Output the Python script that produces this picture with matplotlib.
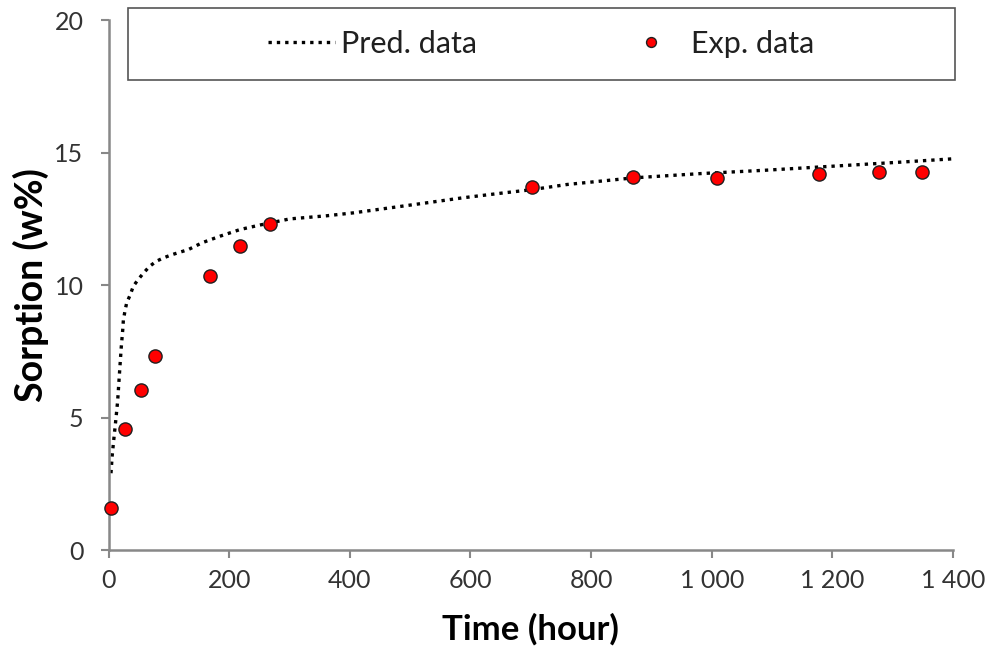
import numpy as np
import matplotlib
matplotlib.use('Agg')
import matplotlib.pyplot as plt
from matplotlib.patches import Rectangle
from matplotlib.ticker import FuncFormatter

plt.rcParams['font.family'] = ['Lato', 'DejaVu Sans']

# experimental points (time in hours, sorption in w%)
time_exp = [4, 27, 53, 77, 169, 218, 268, 702, 870, 1009, 1178, 1278, 1349]
sorp_exp = [1.58, 4.57, 6.05, 7.31, 10.33, 11.49, 12.32, 13.70, 14.08, 14.05, 14.19, 14.27, 14.27]

# predicted curve
time_pred = [4, 6, 9, 12, 15, 17, 19, 21, 23.5, 24.5, 27, 30, 36, 41, 49, 58, 68, 79, 91,
             105, 119, 132, 155, 185, 218, 251, 300, 362, 406, 467, 528, 588, 650, 700,
             760, 870, 980, 1090, 1200, 1310, 1400]
sorp_pred = [2.90, 3.57, 4.25, 4.91, 5.61, 6.30, 6.98, 7.65, 8.32, 8.67, 9.00, 9.33, 9.64,
             9.96, 10.21, 10.46, 10.71, 10.90, 11.03, 11.15, 11.25, 11.34, 11.60, 11.85,
             12.10, 12.27, 12.50, 12.62, 12.73, 12.92, 13.11, 13.30, 13.47, 13.60,
             13.80, 14.05, 14.21, 14.34, 14.49, 14.64, 14.77]

x_ticks = [0, 200, 400, 600, 800, 1000, 1200, 1400]
y_ticks = [0, 5, 10, 15, 20]

fig = plt.figure(figsize=(9.87, 6.5), dpi=100)
ax = fig.add_axes([0.110, 0.1538, 0.8555, 0.815])

pred, = ax.plot(time_pred, sorp_pred, color='black', lw=2.4, linestyle=(0, (1, 1.5)),
                dash_capstyle='butt', label='Pred. data', clip_on=False)
exp, = ax.plot(time_exp, sorp_exp, 'o', color='#ff0000', markeredgecolor='#202020',
               markeredgewidth=1.0, markersize=9.5, label='Exp. data', clip_on=False, zorder=3)

ax.set_xlim(0, 1400)
ax.set_ylim(0, 20)
ax.set_xticks(x_ticks)
ax.set_yticks(y_ticks)
ax.xaxis.set_major_formatter(FuncFormatter(lambda v, p: '{:,}'.format(int(v)).replace(',', ' ')))

for s in ['top', 'right']:
    ax.spines[s].set_visible(False)
for s in ['left', 'bottom']:
    ax.spines[s].set_color('#888888')
    ax.spines[s].set_linewidth(1.8)

ax.tick_params(axis='both', direction='out', length=6, width=1.5, color='#888888',
               labelsize=18, labelcolor='#333333')
ax.tick_params(axis='y', pad=12)
ax.tick_params(axis='x', pad=8)

ax.set_xlabel('Time (hour)', fontsize=25, fontweight='bold', labelpad=15)
ax.set_ylabel('Sorption (w%)', fontsize=27, fontweight='bold', labelpad=4)

# legend box across the top
box = Rectangle((128 / 987, 1 - 80 / 650), (955 - 128) / 987, 72 / 650, transform=fig.transFigure,
                facecolor='white', edgecolor='#555555', lw=1.2, zorder=5)
fig.patches.append(box)
leg = fig.legend(handles=[pred, exp], loc='center', bbox_to_anchor=(541 / 987, 1 - 44 / 650),
                 ncol=2, frameon=False, fontsize=22, handlelength=2.2, handletextpad=0.2,
                 columnspacing=4.6, markerscale=0.75)
leg.set_zorder(6)
for t in leg.get_texts():
    t.set_color('#202020')

fig.savefig('out.png', dpi=100)
